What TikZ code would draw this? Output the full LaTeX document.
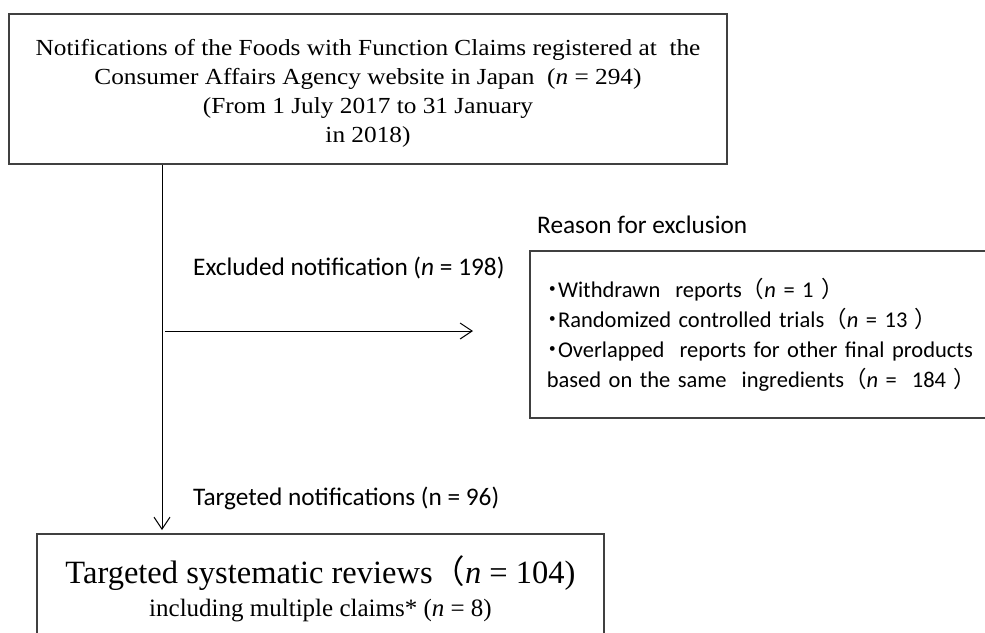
\documentclass[tikz,border=0pt]{standalone}
\usepackage{fontspec}
\setmainfont{Liberation Serif}
\newfontfamily\wideserif[FakeStretch=1.1]{Liberation Serif}
\newfontfamily\calibri{Carlito}
\newfontfamily\jpfont{Noto Sans CJK JP}
\newfontfamily\jpdot[RawFeature=+palt]{Noto Sans CJK JP}
\usetikzlibrary{positioning}
\usetikzlibrary{arrows.meta}

\tikzset{
  myarrow/.style={
    draw=black,
    line width=1pt,
    -{Straight Barb[length=12pt,width=16pt]},
  },
  mybox/.style={
    draw=black!75,
    shape=rectangle,
    line width=1.6pt,
    align=center,
  },
  mylabel/.style={
    inner sep=0pt,
    anchor=base west,
    font=\calibri\fontsize{25.3}{30}\selectfont,
  },
}

\begin{document}
\begin{tikzpicture}[x=1pt, y=-1pt]
    \useasboundingbox (0,0) rectangle (985,632);
    \clip (0,0) rectangle (985,632);

    \node[mybox, minimum width=718pt, minimum height=150pt, font=\wideserif\fontsize{23}{29}\selectfont] (claims) at (368,89)
      {\raisebox{0pt}[25pt]{}Notifications of the Foods with Function Claims registered at~~the\\
       Consumer Affairs Agency website in Japan~~(\textit{n} = 294)\\
       (From 1 July 2017 to 31 January\\
       in 2018)};

    \node[mybox, anchor=north west, minimum height=167pt, text width=460pt, inner xsep=17pt, align=left,
          font=\calibri\fontsize{22.5}{30}\selectfont] (reasons) at (529,250)
      {{\jpdot ・}Withdrawn~~reports{\jpfont （}\textit{n} = 1 {\jpfont ）}\\
       {\jpdot ・}Randomized controlled trials{\jpfont （}\textit{n} = 13 {\jpfont ）}\\
       {\jpdot ・}Overlapped~~reports for other final products\\
       based on the same~~ingredients{\jpfont （}\textit{n} =~~184 {\jpfont ）}};

    \node[mybox, anchor=north, minimum width=567pt, minimum height=110pt, font=\fontsize{32.5}{33}\selectfont] (reviews) at (320.5,533)
      {Targeted systematic reviews{\jpfont （}\textit{n} = 104)\\
       {\fontsize{25}{29}\selectfont including multiple claims* (\textit{n} = 8)}};

    \node[mylabel] (reasonhead) at (537,233) {Reason for exclusion};
    \node[mylabel] (excluded)   at (193,275) {Excluded notification (\textit{n} = 198)};
    \node[mylabel] (targeted)   at (193,505) {Targeted notifications (n = 96)};

    \coordinate (split)   at (162,331);
    \coordinate (exclend) at (473,331);
    \draw[myarrow, shorten >=3pt] (claims.south -| split) -- (reviews.north -| split);
    \draw[myarrow] ([xshift=3pt]split) -- (exclend);
\end{tikzpicture}
\end{document}
